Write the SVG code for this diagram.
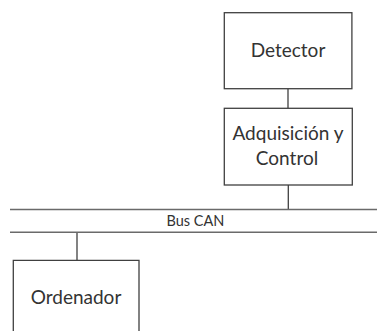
<svg xmlns="http://www.w3.org/2000/svg" width="377" height="331" viewBox="0 0 377 331">
  <style>
    .box { fill: #ffffff; stroke: #404040; stroke-width: 1.3; }
    .wire { stroke: #404040; stroke-width: 1.3; fill: none; }
    .bus { stroke: #6a6a6a; stroke-width: 1.6; fill: none; }
    .label { font-family: Lato, "Open Sans", "Liberation Sans", sans-serif; fill: #333333; text-anchor: middle; }
    .big { font-size: 19px; }
    .small { font-size: 14.5px; }
  </style>
  <rect width="377" height="331" fill="#ffffff"/>

  <!-- connectors -->
  <g id="connectors">
    <line class="wire" x1="288" y1="88.7" x2="288" y2="108.3"/>
    <line class="wire" x1="288.3" y1="185" x2="288.3" y2="209.5"/>
    <line class="wire" x1="77" y1="232.3" x2="77" y2="260.3"/>
  </g>

  <!-- CAN bus -->
  <g id="bus">
    <line class="bus" x1="10" y1="209.5" x2="377" y2="209.5"/>
    <line class="bus" x1="10" y1="232.3" x2="377" y2="232.3"/>
    <text class="label small" x="195.5" y="225.7">Bus CAN</text>
  </g>

  <g id="detector">
    <rect class="box" x="224.3" y="12.7" width="127.6" height="76"/>
    <text class="label big" x="288" y="56.7">Detector</text>
  </g>

  <g id="adquisicion">
    <rect class="box" x="224.3" y="108.3" width="128" height="76.7"/>
    <text class="label big" x="288" y="140">Adquisición y</text>
    <text class="label big" x="287" y="165">Control</text>
  </g>

  <g id="ordenador">
    <path class="box" d="M13.3,332 V260.3 H139 V332"/>
    <text class="label big" x="76" y="304.3">Ordenador</text>
  </g>
</svg>
